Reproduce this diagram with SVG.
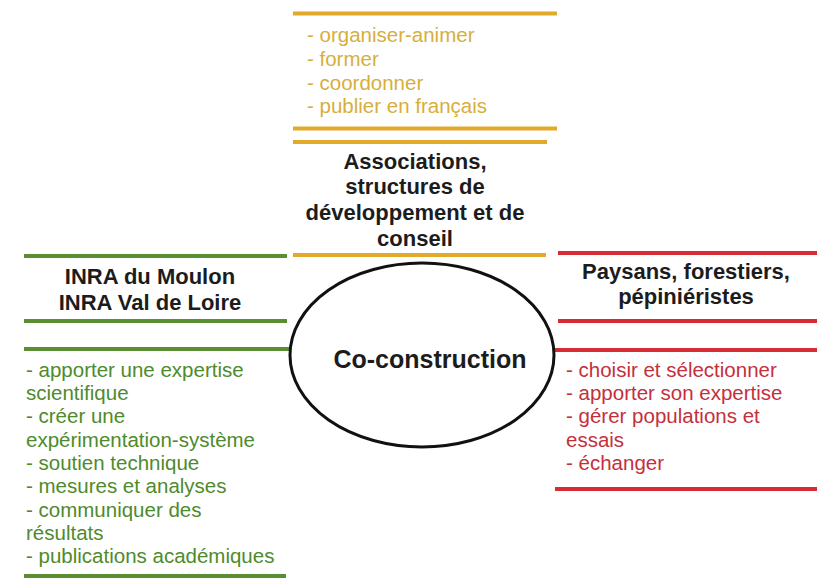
<svg xmlns="http://www.w3.org/2000/svg" width="819" height="587" viewBox="0 0 819 587">
<style>
text{font-family:"Liberation Sans",Arial,sans-serif}
.t{font-size:22px;font-weight:bold;fill:#1c1c1c;text-anchor:middle}
.b{font-size:20.5px}
.o{fill:#D6AF3C}.g{fill:#4E8B2C}.r{fill:#C52F3C}
.lo{stroke:#E2AA2B;stroke-width:4}
.lg{stroke:#5A8E33;stroke-width:4}
.lr{stroke:#D92B35;stroke-width:4}
</style>
<rect width="819" height="587" fill="#ffffff"/>
<g id="associations">
<line class="lo" x1="293" y1="13.5" x2="557" y2="13.5"/>
<text class="b o" x="307"><tspan x="307" y="42">- organiser-animer</tspan><tspan x="307" y="66">- former</tspan><tspan x="307" y="90">- coordonner</tspan><tspan x="307" y="113">- publier en français</tspan></text>
<line class="lo" x1="293" y1="128.5" x2="557" y2="128.5"/>
<line class="lo" x1="293" y1="142" x2="547" y2="142"/>
<text class="t"><tspan x="415" y="169">Associations,</tspan><tspan x="415" y="194">structures de</tspan><tspan x="415" y="220">développement et de</tspan><tspan x="415" y="246">conseil</tspan></text>
<line class="lo" x1="293" y1="255" x2="546" y2="255"/>
</g>
<g id="inra">
<line class="lg" x1="24" y1="256" x2="287" y2="256"/>
<text class="t"><tspan x="150" y="284">INRA du Moulon</tspan><tspan x="150" y="310">INRA Val de Loire</tspan></text>
<line class="lg" x1="24" y1="321" x2="287" y2="321"/>
<line class="lg" x1="24" y1="349" x2="291" y2="349"/>
<text class="b g"><tspan x="26" y="377">- apporter une expertise</tspan><tspan x="26" y="400">scientifique</tspan><tspan x="26" y="423">- créer une</tspan><tspan x="26" y="447">expérimentation-système</tspan><tspan x="26" y="470">- soutien technique</tspan><tspan x="26" y="493">- mesures et analyses</tspan><tspan x="26" y="517">- communiquer des</tspan><tspan x="26" y="540">résultats</tspan><tspan x="26" y="563">- publications académiques</tspan></text>
<line class="lg" x1="24" y1="576" x2="286" y2="576"/>
</g>
<g id="paysans">
<line class="lr" x1="558" y1="253" x2="817" y2="253"/>
<text class="t"><tspan x="686" y="279">Paysans, forestiers,</tspan><tspan x="686" y="304">pépiniéristes</tspan></text>
<line class="lr" x1="558" y1="321" x2="817" y2="321"/>
<line class="lr" x1="553" y1="350" x2="817" y2="350"/>
<text class="b r"><tspan x="566" y="377">- choisir et sélectionner</tspan><tspan x="566" y="400">- apporter son expertise</tspan><tspan x="566" y="423">- gérer populations et</tspan><tspan x="566" y="447">essais</tspan><tspan x="566" y="470">- échanger</tspan></text>
<line class="lr" x1="555" y1="489" x2="817" y2="489"/>
</g>
<g id="coconstruction">
<ellipse cx="422" cy="355" rx="132" ry="92" fill="#ffffff" stroke="#111111" stroke-width="3"/>
<text class="t" x="430" y="368" style="font-size:25px">Co-construction</text>
</g>
<g id="connectors"/>
</svg>
